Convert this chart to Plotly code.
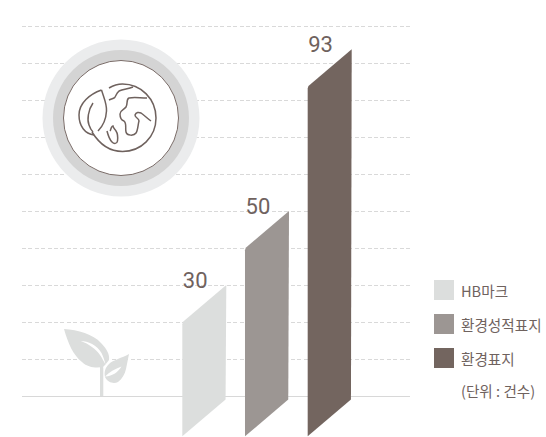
import re
import plotly.graph_objects as go

# ---- data ----
categories = ["HB마크", "환경성적표지", "환경표지"]
values = [30, 50, 93]
bar_heights = [30, 50, 93.7]
bar_colors = ["#dcdedd", "#9c9693", "#73655f"]
grid_values = [10, 20, 30, 40, 50, 60, 70, 80, 90, 100]
unit_note = "(단위 : 건수)"

W, H = 546, 437
TEXT = "#6f625e"
L, R = 22, 410
HALF = 0.351
SKEW = 10.0
BOTTOM_RIGHT = -0.9


def px(x, y):
    return (x - L) / (R - L), 1 - y / H


def path(d):
    toks = re.findall(r"[MLCZ]|-?\d+\.?\d*", d)
    out, nums = [], []
    for t in toks:
        if t in "MLCZ":
            out.append(t)
        else:
            nums.append(float(t))
            if len(nums) == 2:
                a, b = px(*nums)
                out.append(f"{a:.5f},{b:.5f}")
                nums = []
    return " ".join(out)


fig = go.Figure()

for i, (name, h, col) in enumerate(zip(categories, bar_heights, bar_colors)):
    xl, xr = i - HALF, i + HALF
    c = 0.03
    d = 0.6
    xs = [xl, xl + c * 0.4, xr, xr, xr - c * 0.4, xl, xl]
    ys = [h - SKEW - d, h - SKEW + d * 0.1, h, BOTTOM_RIGHT + d, BOTTOM_RIGHT - d * 0.1, BOTTOM_RIGHT - SKEW, h - SKEW - d]
    fig.add_trace(go.Scatter(x=xs, y=ys, mode="lines", fill="toself", fillcolor=col,
                             line=dict(width=0, color=col), name=name,
                             hoverinfo="name", showlegend=False))

fig.add_trace(go.Scatter(
    x=[i - 0.145 for i in range(len(values))],
    y=[h + 0.7 for h in bar_heights],
    mode="text", text=[str(v) for v in values], textposition="middle center",
    textfont=dict(family="Roboto", size=22, color=TEXT),
    hoverinfo="skip", showlegend=False,
))

shapes = []


def circle(cx, cy, r, fill, line=None, lw=0):
    x0, y0 = px(cx - r, cy - r)
    x1, y1 = px(cx + r, cy + r)
    shapes.append(dict(type="circle", xref="paper", yref="paper", x0=x0, x1=x1, y0=y0, y1=y1,
                       fillcolor=fill, line=dict(color=line or fill, width=lw), layer="above"))


def outline(d, w=1.5, col="#6f625e"):
    shapes.append(dict(type="path", xref="paper", yref="paper", path=path(d),
                       line=dict(color=col, width=w), fillcolor="rgba(0,0,0,0)", layer="above"))


def solid(d, col):
    shapes.append(dict(type="path", xref="paper", yref="paper", path=path(d),
                       line=dict(width=0), fillcolor=col, layer="above"))


# globe badge
circle(121, 118, 78.5, "#ebeced")
circle(121, 118, 68, "#d4d4d4")
circle(121, 118, 57.5, "#ffffff", "#7a6c68", 1)

# globe outline, arc from upper left clockwise to lower left
outline("M 109 88 C 114 85 118 84 122.5 84 C 141 84 156 99 156 118 C 156 137 141 151.5 122.5 151.5 "
        "C 111 151.5 100 145 92 132")
# leaf
outline("M 101.5 90 C 90 94 79 103 79 115 C 79 126 85 134 94 135 M 101.5 90 C 104 98 107 104 106.5 111 "
        "C 106 120 102 127 98 131 M 93 103 C 88 110 87 120 89 125 C 90 128 91 130 93 132")
# north land
outline("M 133 87 C 128 89 123 89 119 91 C 116 93 116 97 114 98 C 112 99 111 99 109 100")
# right land
outline("M 147 98 C 140 98 134 97 129 98 C 126 99 128 104 126 107 C 124 110 120 110 120 114 "
        "C 120 118 121 120 124 121 C 127 123 125 128 126 132 C 127 136 134 136 136 133 "
        "C 138 130 138 124 139 121 C 139 118 135 118 135 115 C 136 112 139 112 141 113 "
        "C 144 115 148 119 151 121")
# south land
outline("M 107 131 C 108 135 110 140 112 142 C 114 144 117 144 117.5 141 C 118 137 118 134 116 131 "
        "C 115 129 113 128 113 126 C 111 126 111 130 110 131")

# plant
PLANT = "#dcdedd"
solid("M 64 329 C 78 330 93 334 101 343 C 106 348 110 354 109 360 L 105.5 364.5 L 103 367 "
      "C 97 368 88 368 82 362 C 73 355 68 343 64 329 Z", PLANT)
solid("M 80.7 341 C 88 341 97 345 101.5 353 C 103 356 104.5 360 105.5 364.5 C 103 360 102 358 100 355 "
      "C 96 349 89 344 80.7 341 Z", "#ffffff")
solid("M 100 396 L 100 368 C 100 363 99 359 97 355 C 100 358 103 363 103.3 368 L 103.3 396 Z", PLANT)
solid("M 129 354 C 122 358 113 360 109 364 C 105 368 104 372 105 377 C 108 383 114 384 118 382 "
      "C 122 379 125 374 126 369 C 127 364 128 359 129 354 Z", PLANT)
solid("M 105 376.5 C 109 372 115 369 121.5 366.5 C 118 372 113 376 105 376.5 Z", "#ffffff")

annotations = []
legend_tops = [280, 314, 348]
for name, col, top in zip(categories, bar_colors, legend_tops):
    x0, y0 = px(434, top)
    x1, y1 = px(454, top + 20)
    shapes.append(dict(type="rect", xref="paper", yref="paper", x0=x0, x1=x1, y0=y0, y1=y1,
                       fillcolor=col, line=dict(width=0), layer="above"))
    ax, ay = px(459.5, top + 10)
    annotations.append(dict(xref="paper", yref="paper", x=ax, y=ay, text=name, showarrow=False,
                            xanchor="left", yanchor="middle", borderpad=0,
                            font=dict(family="Noto Sans CJK KR", size=14.6, color=TEXT)))
ax, ay = px(459.5, 390)
annotations.append(dict(xref="paper", yref="paper", x=ax, y=ay, text=unit_note, showarrow=False,
                        xanchor="left", yanchor="middle", borderpad=0,
                        font=dict(family="Noto Sans CJK KR", size=14.6, color=TEXT)))

x_per_px = 1 / 62.7
fig.update_layout(
    width=W, height=H, autosize=False,
    margin=dict(l=L, r=W - R, t=0, b=0, pad=0),
    paper_bgcolor="#ffffff", plot_bgcolor="#ffffff",
    showlegend=False, shapes=shapes, annotations=annotations,
    xaxis=dict(range=[(L - 204.3) * x_per_px, (R - 204.3) * x_per_px], visible=False, fixedrange=True),
    yaxis=dict(range=[-41 / 3.7, 396 / 3.7], tickvals=grid_values, showticklabels=False, ticks="",
               showgrid=True, gridcolor="#d9d9d9", griddash="4px,2.4px", gridwidth=1,
               zeroline=True, zerolinecolor="#d8d8d8", zerolinewidth=1, showline=False, fixedrange=True),
)
fig.write_html("out.html", config=dict(displayModeBar=False),
               post_script="document.body.style.margin='0';document.documentElement.style.overflow='hidden';")
